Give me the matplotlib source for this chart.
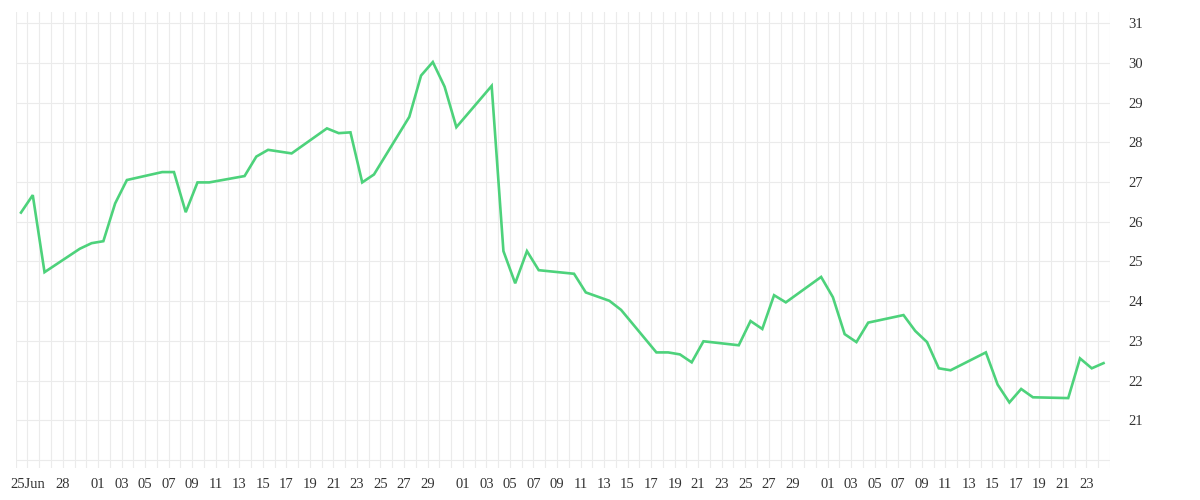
import matplotlib
matplotlib.use("Agg")
import matplotlib.pyplot as plt
import matplotlib.dates as mdates
from matplotlib.ticker import FixedLocator, NullFormatter
import numpy as np

dates = [
    "2020-06-24", "2020-06-25", "2020-06-26", "2020-06-29", "2020-06-30",
    "2020-07-01", "2020-07-02", "2020-07-03", "2020-07-06", "2020-07-07",
    "2020-07-08", "2020-07-09", "2020-07-10", "2020-07-13", "2020-07-14",
    "2020-07-15", "2020-07-17", "2020-07-20", "2020-07-21", "2020-07-22",
    "2020-07-23", "2020-07-24", "2020-07-27", "2020-07-28", "2020-07-29",
    "2020-07-30", "2020-07-31", "2020-08-03", "2020-08-04", "2020-08-05",
    "2020-08-06", "2020-08-07", "2020-08-10", "2020-08-11", "2020-08-13",
    "2020-08-14", "2020-08-17", "2020-08-18", "2020-08-19", "2020-08-20",
    "2020-08-21", "2020-08-24", "2020-08-25", "2020-08-26", "2020-08-27",
    "2020-08-28", "2020-08-31", "2020-09-01", "2020-09-02", "2020-09-03",
    "2020-09-04", "2020-09-07", "2020-09-08", "2020-09-09", "2020-09-10",
    "2020-09-11", "2020-09-14", "2020-09-15", "2020-09-16", "2020-09-17",
    "2020-09-18", "2020-09-21", "2020-09-22", "2020-09-23", "2020-09-24",
]
values = [
    26.23, 26.67, 24.73, 25.32, 25.46,
    25.51, 26.46, 27.05, 27.25, 27.25,
    26.24, 26.99, 26.99, 27.15, 27.64,
    27.81, 27.72, 28.35, 28.23, 28.25,
    26.99, 27.19, 28.64, 29.68, 30.02,
    29.40, 28.38, 29.42, 25.26, 24.45,
    25.26, 24.78, 24.69, 24.22, 24.01,
    23.78, 22.71, 22.71, 22.66, 22.46,
    22.99, 22.89, 23.50, 23.30, 24.15,
    23.97, 24.61, 24.10, 23.17, 22.97,
    23.46, 23.65, 23.25, 22.97, 22.31,
    22.26, 22.71, 21.90, 21.45, 21.79,
    21.58, 21.56, 22.56, 22.31, 22.44,
]

tick_dates = [
    "2020-06-25", "2020-06-28",
    "2020-07-01", "2020-07-03", "2020-07-05", "2020-07-07", "2020-07-09",
    "2020-07-11", "2020-07-13", "2020-07-15", "2020-07-17", "2020-07-19",
    "2020-07-21", "2020-07-23", "2020-07-25", "2020-07-27", "2020-07-29",
    "2020-08-01", "2020-08-03", "2020-08-05", "2020-08-07", "2020-08-09",
    "2020-08-11", "2020-08-13", "2020-08-15", "2020-08-17", "2020-08-19",
    "2020-08-21", "2020-08-23", "2020-08-25", "2020-08-27", "2020-08-29",
    "2020-09-01", "2020-09-03", "2020-09-05", "2020-09-07", "2020-09-09",
    "2020-09-11", "2020-09-13", "2020-09-15", "2020-09-17", "2020-09-19",
    "2020-09-21", "2020-09-23",
]
tick_labels = [
    "25Jun", "28",
    "01", "03", "05", "07", "09", "11", "13", "15", "17", "19", "21", "23",
    "25", "27", "29",
    "01", "03", "05", "07", "09", "11", "13", "15", "17", "19", "21", "23",
    "25", "27", "29",
    "01", "03", "05", "07", "09", "11", "13", "15", "17", "19", "21", "23",
]
y_ticks = [20, 21, 22, 23, 24, 25, 26, 27, 28, 29, 30, 31]
y_labels = ["", "21", "22", "23", "24", "25", "26", "27", "28", "29", "30", "31"]

start = mdates.datestr2num("2020-06-24")
end = mdates.datestr2num("2020-09-25")

fig = plt.figure(figsize=(12, 5), dpi=100)
ax = fig.add_axes([15.7 / 1200, 32 / 500, (1110 - 15.7) / 1200, (468 - 12) / 500])

x = mdates.datestr2num(dates) + 0.45
ax.plot(x, values, color="#4dd27b", linewidth=1.9, solid_joinstyle="miter", zorder=3)

ax.set_xlim(start, end)
ax.set_ylim(19.80, 31.28)

ax.xaxis.set_major_locator(FixedLocator(mdates.datestr2num(tick_dates)))
ax.set_xticklabels(tick_labels)
ax.xaxis.set_minor_locator(FixedLocator(np.arange(start, end + 0.5, 1.0)))
ax.xaxis.set_minor_formatter(NullFormatter())

ax.yaxis.tick_right()
ax.set_yticks(y_ticks)
ax.set_yticklabels(y_labels)

for s in ax.spines.values():
    s.set_visible(False)

ax.tick_params(axis="both", which="both", length=0)
ax.tick_params(axis="x", which="major", pad=7, labelsize=10.5, labelcolor="#333333")
ax.tick_params(axis="y", which="major", pad=13, labelsize=10.5, labelcolor="#333333")
for lab in ax.get_xticklabels() + ax.get_yticklabels():
    lab.set_fontfamily("Liberation Serif")

ax.grid(True, which="both", axis="x", color="#ebebeb", linewidth=0.8)
ax.grid(True, which="major", axis="y", color="#ebebeb", linewidth=0.8)
ax.set_axisbelow(True)

fig.savefig("out.png", dpi=100, facecolor="white")
